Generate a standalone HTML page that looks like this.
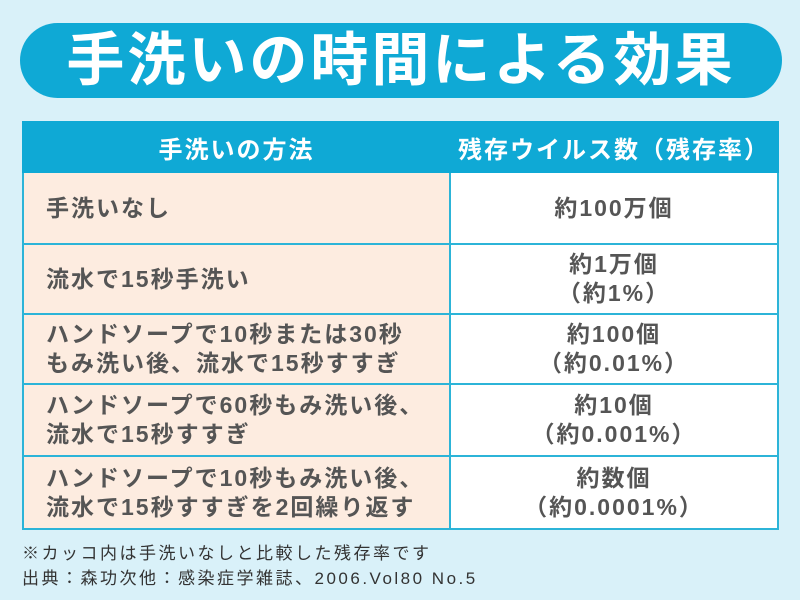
<!DOCTYPE html>
<html><head><meta charset="utf-8"><style>
body{margin:0;width:800px;height:600px;background:#d9f1f9;font-family:"Liberation Sans","Noto Sans CJK JP",sans-serif;position:relative;overflow:hidden}
.title{position:absolute;left:20px;top:23px;width:762px;height:75px;background:#0fa9d5;border-radius:38px;color:#fff;font-weight:bold;font-size:58px;line-height:75px;text-align:center;letter-spacing:3px}
table{position:absolute;left:22px;top:121px;width:757px;border-collapse:collapse;table-layout:fixed}
td{border:2px solid #2cb4d8;font-weight:bold;color:#555;font-size:23px;line-height:29px;padding:0;letter-spacing:2px}
th{background:#0fa9d5;color:#fff;font-size:24px;height:46px;border:2px solid #0fa9d5;font-weight:bold;letter-spacing:2px}
td.l{background:#fdece0;padding-left:22px}
td.r{background:#fff;text-align:center}
.note{position:absolute;left:22px;font-size:17px;color:#333;letter-spacing:2.5px}
</style></head><body>
<div class="title">手洗いの時間による効果</div>
<table>
<col style="width:427px"><col>
<tr><th>手洗いの方法</th><th>残存ウイルス数（残存率）</th></tr>
<tr style="height:72px"><td class="l">手洗いなし</td><td class="r">約100万個</td></tr>
<tr style="height:70px"><td class="l">流水で15秒手洗い</td><td class="r">約1万個<br>（約1%）</td></tr>
<tr style="height:70px"><td class="l">ハンドソープで10秒または30秒<br>もみ洗い後、流水で15秒すすぎ</td><td class="r">約100個<br>（約0.01%）</td></tr>
<tr style="height:72px"><td class="l">ハンドソープで60秒もみ洗い後、<br>流水で15秒すすぎ</td><td class="r">約10個<br>（約0.001%）</td></tr>
<tr style="height:73px"><td class="l">ハンドソープで10秒もみ洗い後、<br>流水で15秒すすぎを2回繰り返す</td><td class="r">約数個<br>（約0.0001%）</td></tr>
</table>
<div class="note" style="top:539px">※カッコ内は手洗いなしと比較した残存率です</div>
<div class="note" style="top:564px">出典：森功次他：感染症学雑誌、2006.Vol80 No.5</div>
</body></html>
